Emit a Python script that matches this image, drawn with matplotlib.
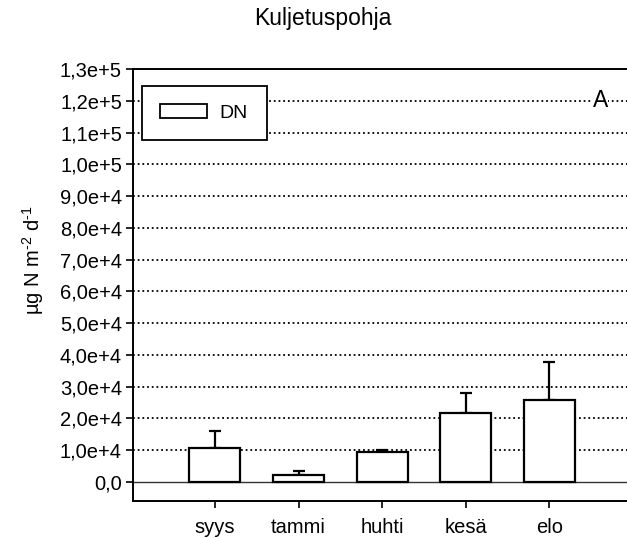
import matplotlib
matplotlib.use("Agg")
import matplotlib.pyplot as plt
from matplotlib.patches import Patch

plt.rcParams['font.family'] = ['Liberation Sans', 'DejaVu Sans']
plt.rcParams['mathtext.fontset'] = 'custom'
plt.rcParams['mathtext.rm'] = 'Liberation Sans'
plt.rcParams['mathtext.it'] = 'Liberation Sans'
plt.rcParams['axes.unicode_minus'] = False

categories = ["syys", "tammi", "huhti", "kesä", "elo"]
values = [1.08e4, 0.22e4, 0.95e4, 2.16e4, 2.57e4]
errors = [0.53e4, 0.14e4, 0.07e4, 0.65e4, 1.21e4]
yticks = [i * 1e4 for i in range(14)]
ytick_labels = ["0,0", "1,0e+4", "2,0e+4", "3,0e+4", "4,0e+4", "5,0e+4", "6,0e+4",
                "7,0e+4", "8,0e+4", "9,0e+4", "1,0e+5", "1,1e+5", "1,2e+5", "1,3e+5"]

W, H = 627, 538
fig = plt.figure(figsize=(W / 100, H / 100), dpi=100)
ax_left, ax_right, ax_top, ax_bottom = 133, 627, 69, 501
ax = fig.add_axes([ax_left / W, 1 - ax_bottom / H, (ax_right - ax_left) / W, (ax_bottom - ax_top) / H])

x = list(range(len(categories)))
for yv in yticks[1:13]:
    ax.axhline(yv, color="black", linestyle=(0, (1, 1.6)), linewidth=1.3, zorder=1)
ax.axhline(0, color="#333333", linewidth=1.0, zorder=1)

ax.bar(x, values, width=0.61, color="white", edgecolor="black", linewidth=1.6, zorder=3,
       yerr=[[0] * len(errors), errors], capsize=4,
       error_kw=dict(elinewidth=1.6, capthick=1.6, ecolor="black", zorder=2))

ax.set_xlim(-0.98, 4.93)
ax.set_ylim(-0.6e4, 1.3e5)
ax.set_yticks(yticks)
ax.set_yticklabels(ytick_labels)
ax.set_xticks(x)
ax.set_xticklabels(categories)
ax.tick_params(axis="both", direction="out", length=5, width=1.2, labelsize=14.5, colors="black")
ax.tick_params(axis="x", pad=7)
ax.tick_params(axis="y", pad=3)
for s in ["left", "bottom", "top"]:
    ax.spines[s].set_linewidth(1.4)
ax.spines["right"].set_visible(False)

axw = ax_right - ax_left
axh = ax_bottom - ax_top
ax.set_ylabel(r"µg N m$^{\text{-2}}$ d$^{\text{-1}}$", fontsize=14.5, va="center")
ax.yaxis.set_label_coords((33 - ax_left) / axw, 1 - (260 - ax_top) / axh)
fig.text(323 / W, 1 - 19 / H, "Kuljetuspohja", ha="center", va="center", fontsize=16.5)
ax.text(4.61, 1.2e5, "A", ha="center", va="center", fontsize=16.5,
        bbox=dict(facecolor="white", edgecolor="none", pad=0.3), zorder=4)

leg = ax.legend(handles=[Patch(facecolor="white", edgecolor="black", linewidth=1.3, label="DN")],
                loc="upper left", bbox_to_anchor=(9 / axw, 1 - 17 / axh), fancybox=False,
                framealpha=1, edgecolor="black", fontsize=14, borderpad=0.95,
                handlelength=2.4, handleheight=0.67, handletextpad=0.65, borderaxespad=0)
leg.get_frame().set_linewidth(1.3)
leg.set_zorder(5)

fig.savefig("out.png", dpi=100)
